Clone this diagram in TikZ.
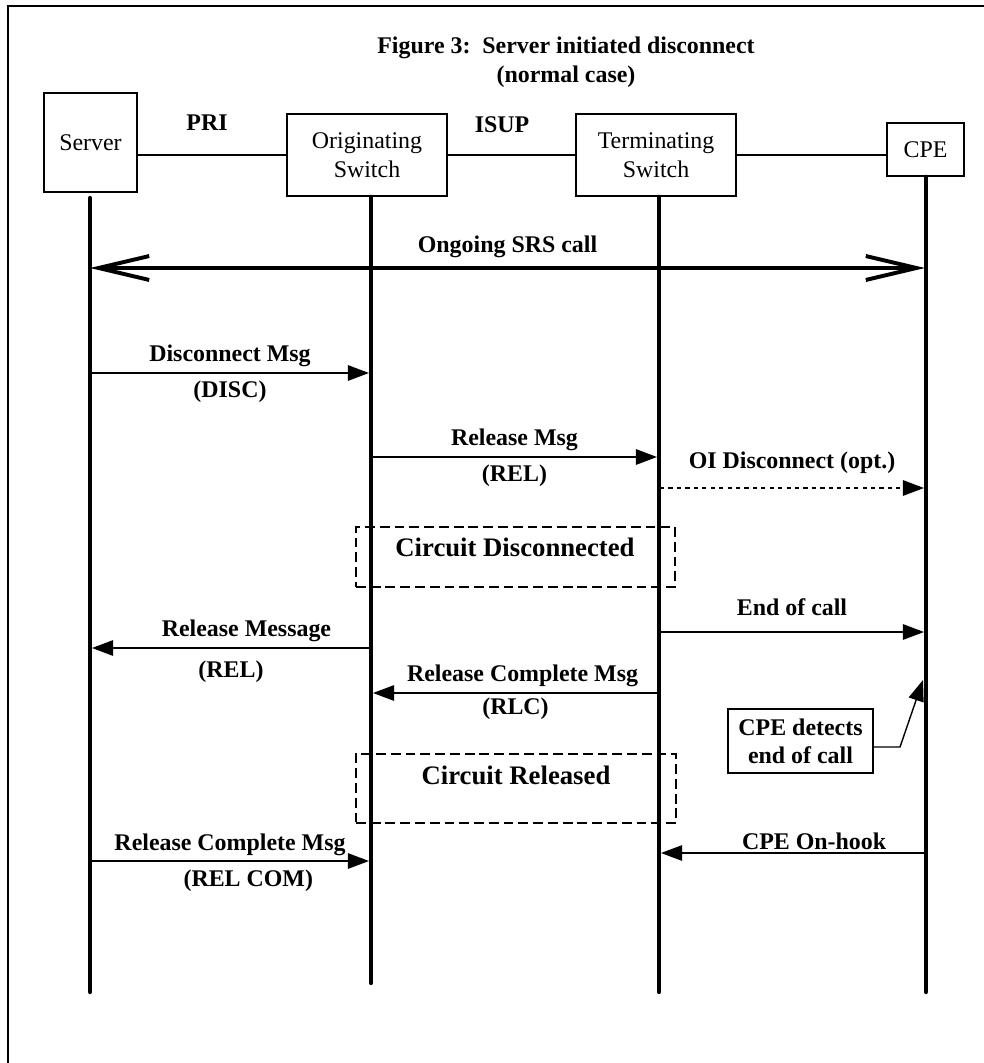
\documentclass[tikz,border=0pt]{standalone}
\usepackage{fontspec}
\setmainfont{Liberation Serif}
\usetikzlibrary{arrows.meta, positioning}

\tikzset{
    ent/.style={draw, line width=1.2pt, align=center, inner sep=2pt, font=\fontsize{17}{20.6}\selectfont},
    life/.style={line width=3pt, line cap=round},
    link/.style={line width=1pt},
    msg/.style={line width=1pt, -{Triangle[length=15pt, width=11pt]}},
    optmsg/.style={msg, dash pattern=on 3pt off 3pt},
    ongoing/.style={line width=2.8pt, {Straight Barb[length=36pt, width=17pt]}-{Straight Barb[length=36pt, width=17pt]}},
    lbl/.style={font=\bfseries\fontsize{17}{20}\selectfont, inner sep=2pt},
    phase/.style={draw, line width=1.2pt, dash pattern=on 7pt off 3.5pt},
    phasetxt/.style={font=\bfseries\fontsize{19}{22}\selectfont},
    note/.style={draw, line width=1pt, align=center, font=\bfseries\fontsize{17}{20}\selectfont},
}

\begin{document}
\begin{tikzpicture}[x=0.025cm, y=-0.025cm]
        \useasboundingbox (0,0) rectangle (984,1063);
        \coordinate (frTL) at (8,6);
        \coordinate (frTR) at (984,6);
        \coordinate (frBL) at (8,1063);
        \draw[line width=1.4pt] (frTR) -- (frTL) -- (frBL);

        \node[lbl, align=center, font=\bfseries\fontsize{17}{20.6}\selectfont] (title) at (566,62) {Figure 3:\ \ Server initiated disconnect\\(normal case)};

        % entities
        \node[ent, minimum width=2.325cm, minimum height=2.475cm] (srv) at (90.5,142.5) {Server};
        \node[ent, minimum width=4cm, minimum height=2.05cm] (orig) at (367,155) {Originating\\Switch};
        \node[ent, minimum width=4cm, minimum height=2.05cm] (term) at (656,155) {Terminating\\Switch};
        \node[ent, minimum width=1.925cm, minimum height=1.325cm] (cpe) at (925.5,149.5) {CPE};

        \draw[link] (srv.east |- orig.west) -- (orig.west);
        \draw[link] (orig.east) -- (term.west);
        \draw[link] (term.east) -- (term.east -| cpe.west);
        \node[lbl] (pri) at (207,123) {PRI};
        \node[lbl] (isup) at (502,125) {ISUP};

        % lifelines
        \coordinate (srvTop) at (90,198);
        \coordinate (srvEnd) at (90,992);
        \coordinate (origEnd) at (371,983);
        \coordinate (termEnd) at (659,992);
        \coordinate (cpeEnd) at (926,992);
        \draw[life] (srvTop) -- (srvEnd);
        \draw[life] (orig.south -| origEnd) -- (origEnd);
        \draw[life] (term.south -| termEnd) -- (termEnd);
        \draw[life] (cpe.south -| cpeEnd) -- (cpeEnd);

        % message end points
        \coordinate (onS) at (90,268);   \coordinate (onC) at (925,268);
        \coordinate (discS) at (91,373); \coordinate (discO) at (369,373);
        \coordinate (relO) at (372,457); \coordinate (relT) at (657,457);
        \coordinate (oiT) at (660,488);  \coordinate (oiC) at (924,488);
        \coordinate (eocT) at (660,632); \coordinate (eocC) at (924,632);
        \coordinate (relmO) at (370,648); \coordinate (relmS) at (92,648);
        \coordinate (rlcT) at (658,693); \coordinate (rlcO) at (373,693);
        \coordinate (rcS) at (91,861);   \coordinate (rcO) at (369,861);
        \coordinate (hookC) at (925,853); \coordinate (hookT) at (661,853);

        \draw[ongoing] (onS) -- node[lbl, above=4pt] (lblOn) {Ongoing SRS call} (onC);
        \draw[msg] (discS) -- node[lbl, above=2pt] (lblDisc) {Disconnect Msg} node[lbl, below=3pt] (lblDiscB) {(DISC)} (discO);
        \draw[msg] (relO) -- node[lbl, above=2pt] (lblRel) {Release Msg} node[lbl, below=3pt] (lblRelB) {(REL)} (relT);
        \draw[optmsg] (oiT) -- node[lbl, above=8pt] (lblOi) {OI Disconnect (opt.)} (oiC);
        \draw[msg] (eocT) -- node[lbl, above=9pt] (lblEoc) {End of call} (eocC);
        \draw[msg] (relmO) -- node[lbl, above=2pt, xshift=11] (lblRelm) {Release Message} node[lbl, below=7pt] (lblRelmB) {(REL)} (relmS);
        \draw[msg] (rlcT) -- node[lbl, above=2pt, xshift=5] (lblRlc) {Release Complete Msg} node[lbl, below=1pt] (lblRlcB) {(RLC)} (rlcO);
        \draw[msg] (rcS) -- node[lbl, above=1pt] (lblRc) {Release Complete Msg} node[lbl, below=4pt, xshift=13] (lblRcB) {(REL COM)} (rcO);
        \draw[msg] (hookC) -- node[lbl, above=0pt, xshift=15] (lblHook) {CPE On-hook} (hookT);

        % phases
        \node[phase, minimum width=7.975cm, minimum height=1.5cm] (discBox) at (515.5,557) {};
        \node[phasetxt] (discTxt) at (515,547) {Circuit Disconnected};
        \node[phase, minimum width=8cm, minimum height=1.725cm] (relBox) at (516,788.5) {};
        \node[phasetxt] (relTxt) at (516,775) {Circuit Released};

        % note
        \node[note, minimum width=3.625cm, minimum height=1.6cm] (cpeNote) at (800.5,741) {CPE detects\\end of call};
        \coordinate (noteBend) at (900,747);
        \coordinate (noteTip) at (923,680);
        \draw[msg] (cpeNote.east |- noteBend) -- (noteBend) -- (noteTip);
    \end{tikzpicture}
\end{document}
